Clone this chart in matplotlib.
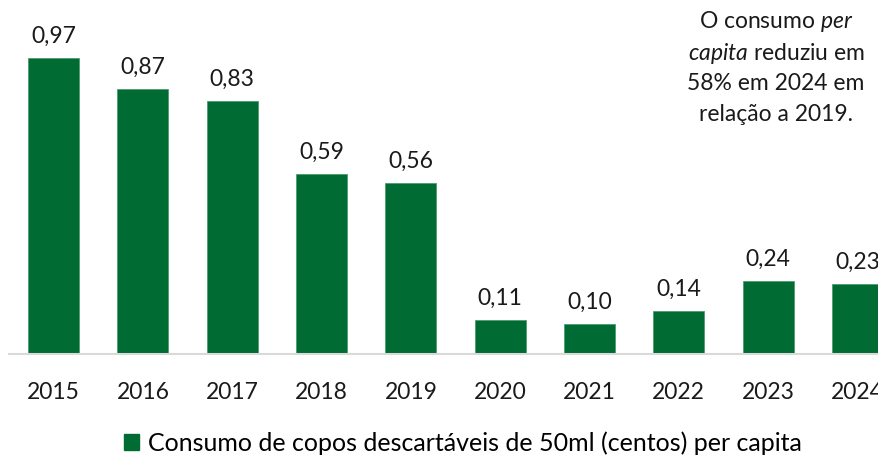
import matplotlib.pyplot as plt
from matplotlib.patches import Patch

plt.rcParams['font.family'] = ['Lato', 'DejaVu Sans']
plt.rcParams['mathtext.fontset'] = 'custom'
plt.rcParams['mathtext.rm'] = 'Lato'
plt.rcParams['mathtext.it'] = 'Lato:italic'

years = ['2015', '2016', '2017', '2018', '2019', '2020', '2021', '2022', '2023', '2024']
values = [0.97, 0.87, 0.83, 0.59, 0.56, 0.11, 0.10, 0.14, 0.24, 0.23]
labels = ['0,97', '0,87', '0,83', '0,59', '0,56', '0,11', '0,10', '0,14', '0,24', '0,23']
legend_label = 'Consumo de copos descartáveis de 50ml (centos) per capita'
note = ['O consumo $\\mathit{per}$', '$\\mathit{capita}$ reduziu em',
        '58% em 2024 em', 'relação a 2019.']

green = '#006B33'
W, H = 879, 459

fig = plt.figure(figsize=(W / 100, H / 100), dpi=100)
ax = fig.add_axes([9 / W, 105 / H, 893 / W, 305 / H])

x = range(len(years))
bars = ax.bar(x, values, width=0.57, color=green, edgecolor='#4F9A6E', linewidth=0.6)
for b, lab in zip(bars, labels):
    ax.annotate(lab, (b.get_x() + b.get_width() / 2, b.get_height()),
                xytext=(0, 8), textcoords='offset points',
                ha='center', va='bottom', fontsize=16.5, color='#1a1a1a')

ax.set_xlim(-0.5, len(years) - 0.5)
ax.set_ylim(0, 1.0)
ax.set_xticks(list(x))
ax.set_xticklabels(years, fontsize=16.5, color='#1a1a1a')
ax.tick_params(axis='x', length=0, pad=20)
ax.set_yticks([])
for s in ['top', 'right', 'left']:
    ax.spines[s].set_visible(False)
ax.spines['bottom'].set_color('#D9D9D9')
ax.spines['bottom'].set_linewidth(1.5)

for i, line in enumerate(note):
    fig.text(776 / W, 1 - (22 + 31 * i) / H, line, ha='center', va='center',
             fontsize=16.5, color='#1a1a1a')

fig.legend(handles=[Patch(color=green, label=legend_label)], loc='center',
           bbox_to_anchor=(463 / W, 1 - 443 / H), frameon=False, fontsize=18,
           handlelength=0.6, handleheight=0.6, handletextpad=0.35)

fig.savefig('out.png', dpi=100)
